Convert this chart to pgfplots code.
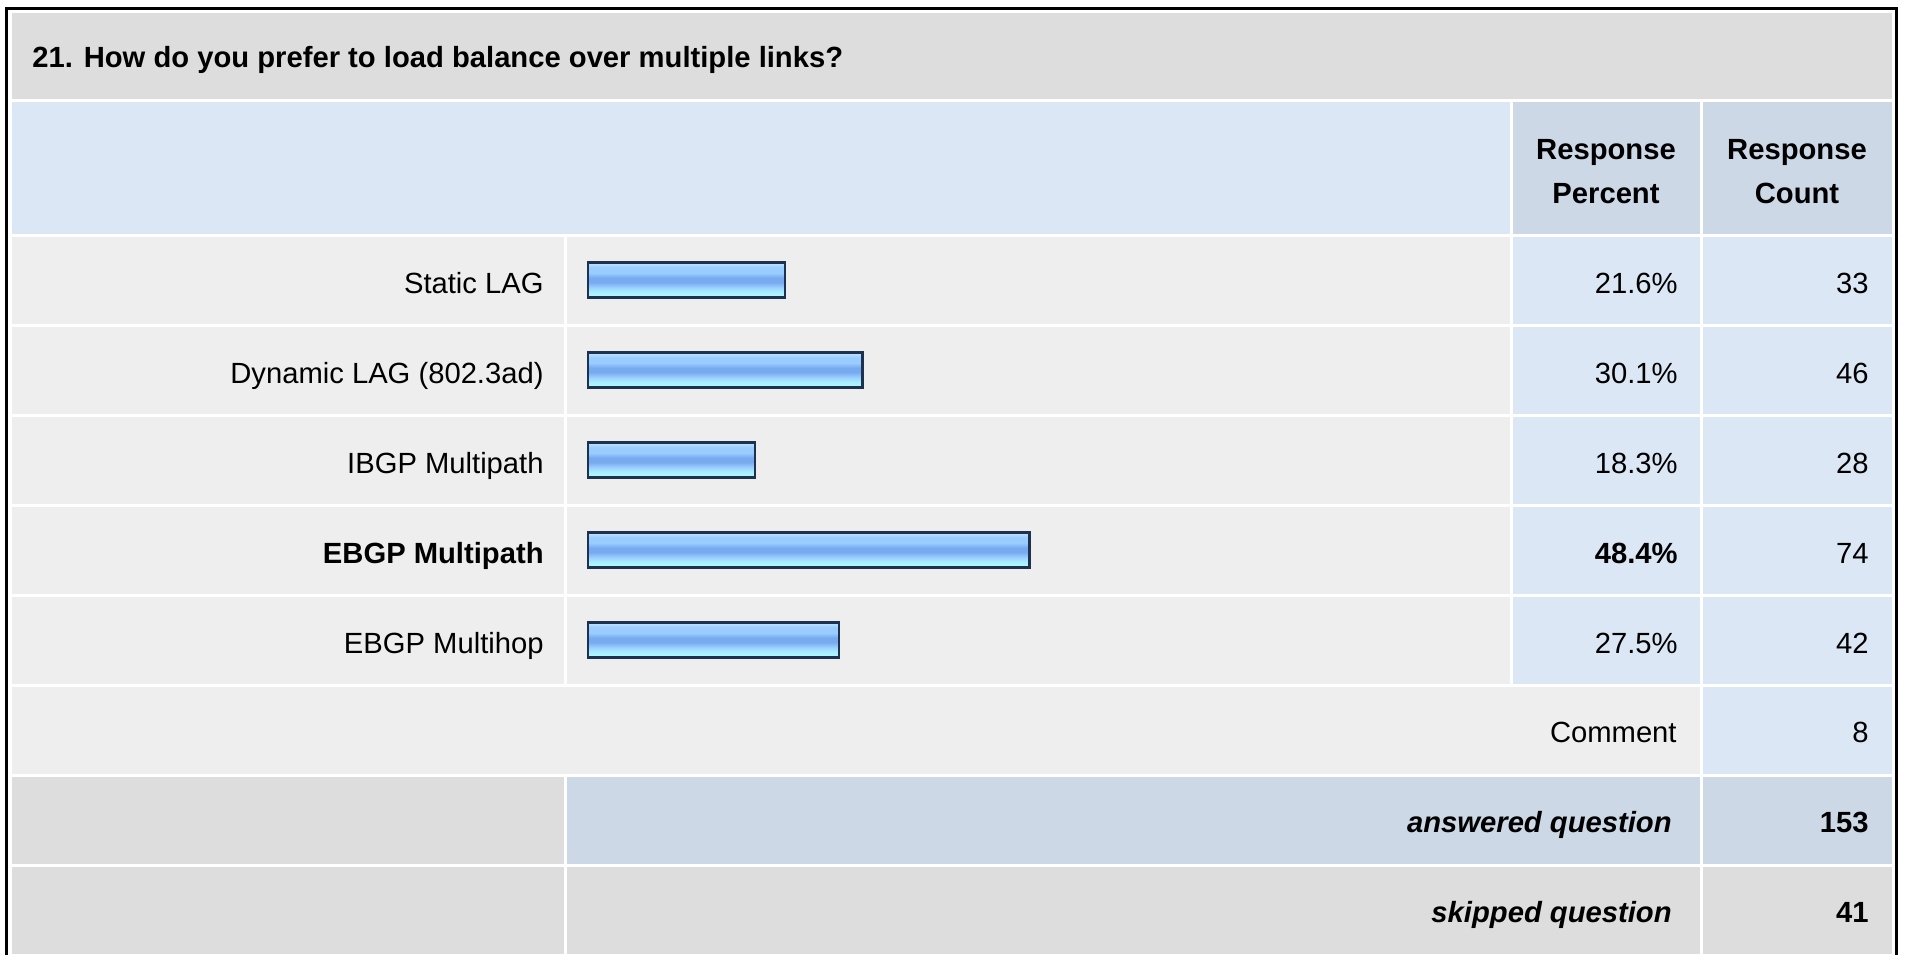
\documentclass[border=0pt]{standalone}
\usepackage{pgfplots}
\pgfplotsset{compat=1.18}
\usepackage{fontspec}
\setmainfont{Liberation Sans}
\definecolor{titlegray}{HTML}{DDDDDD}
\definecolor{rowgray}{HTML}{EEEEEE}
\definecolor{lightblue}{HTML}{DCE7F5}
\definecolor{headblue}{HTML}{CCD8E6}
\definecolor{barborder}{HTML}{1E3250}
\definecolor{bA}{HTML}{AFFFFF}
\definecolor{bB}{HTML}{A8EEFF}
\definecolor{bC}{HTML}{99CCFF}
\definecolor{bD}{HTML}{77AAEE}
\definecolor{bE}{HTML}{9ACCFF}
\definecolor{bF}{HTML}{C4E4FF}
\pgfdeclareverticalshading{barshade}{100bp}{color(0bp)=(bA); color(25bp)=(bA); color(33bp)=(bB); color(40bp)=(bC); color(47bp)=(bD); color(53bp)=(bD); color(60bp)=(bC); color(68bp)=(bE); color(75bp)=(bF); color(100bp)=(bF)}
\newcommand\tf{\fontsize{14.6}{22}\selectfont}
\newcommand\cell[5]{\fill[#5] (#1+1.5,#2+1.5) rectangle (#3-1.5,#4-1.5);}
\tikzset{mybar/.style={xbar, bar width=17.5pt, bar shift=0pt,
    draw=barborder, line width=1.3pt, shade, shading=barshade, mark=none}}
\begin{document}
\begin{tikzpicture}
\fill[white] (0,0) rectangle (953.5pt,-477pt);
\begin{scope}[x=0.5pt,y=-0.5pt]
\clip (0,0) rectangle (1907,954);
\draw[black, line width=1.5pt] (6.5,8.5) rectangle (1896.5,990);
% title and header
\cell{10}{11}{1893}{100}{titlegray}
\cell{10}{100}{1511}{235}{lightblue}
\cell{1511}{100}{1701}{235}{headblue}
\cell{1701}{100}{1893}{235}{headblue}
% answer rows
\foreach \k in {0,...,4}{
  \pgfmathsetmacro\ya{235+90*\k}
  \pgfmathsetmacro\yb{325+90*\k}
  \cell{10}{\ya}{565}{\yb}{rowgray}
  \cell{565}{\ya}{1511}{\yb}{rowgray}
  \cell{1511}{\ya}{1701}{\yb}{lightblue}
  \cell{1701}{\ya}{1893}{\yb}{lightblue}
}
% comment row
\cell{10}{685}{1701}{775}{rowgray}
\cell{1701}{685}{1893}{775}{lightblue}
% answered
\cell{10}{775}{565}{865}{titlegray}
\cell{565}{775}{1701}{865}{headblue}
\cell{1701}{775}{1893}{865}{headblue}
% skipped
\cell{10}{865}{565}{955}{titlegray}
\cell{565}{865}{1701}{955}{titlegray}
\cell{1701}{865}{1893}{955}{titlegray}
% texts
\node[anchor=base west, inner sep=0] at (32,67) {\tf\bfseries 21. How do you prefer to load balance over multiple links?};
\node[anchor=base, inner sep=0] at (1606,159) {\tf\bfseries Response};
\node[anchor=base, inner sep=0] at (1606,203) {\tf\bfseries Percent};
\node[anchor=base, inner sep=0] at (1797,159) {\tf\bfseries Response};
\node[anchor=base, inner sep=0] at (1797,203) {\tf\bfseries Count};
\foreach \lab/\pc/\cnt [count=\i from 0] in {Static LAG/21.6/33, Dynamic LAG (802.3ad)/30.1/46, IBGP Multipath/18.3/28, \bfseries EBGP Multipath/\bfseries 48.4/74, EBGP Multihop/27.5/42}{
  \pgfmathsetmacro\yy{293+90*\i}
  \node[anchor=base east, inner sep=0] at (544,\yy) {\tf\lab};
  \node[anchor=base east, inner sep=0] at (1678,\yy) {\tf\pc\%};
  \node[anchor=base east, inner sep=0] at (1869,\yy) {\tf\cnt};
}
\node[anchor=base east, inner sep=0] at (1677,742) {\tf Comment};
\node[anchor=base east, inner sep=0] at (1869,742) {\tf 8};
\node[anchor=base east, inner sep=0] at (1672,832) {\tf\bfseries\itshape answered question};
\node[anchor=base east, inner sep=0] at (1869,832) {\tf\bfseries 153};
\node[anchor=base east, inner sep=0] at (1672,922) {\tf\bfseries\itshape skipped question};
\node[anchor=base east, inner sep=0] at (1869,922) {\tf\bfseries 41};
\end{scope}
\begin{axis}[at={(294pt,-117.5pt)}, anchor=north west, scale only axis,
  width=456pt, height=225pt, xmin=0, xmax=100, ymin=-0.5, ymax=4.5,
  y dir=reverse, hide axis, clip=false]
\addplot[mybar] coordinates {(21.6,0)};
\addplot[mybar] coordinates {(30.1,1)};
\addplot[mybar] coordinates {(18.3,2)};
\addplot[mybar] coordinates {(48.4,3)};
\addplot[mybar] coordinates {(27.5,4)};
\end{axis}
\pgfresetboundingbox
\useasboundingbox (0,0) rectangle (953.5pt,-477pt);
\end{tikzpicture}
\end{document}
